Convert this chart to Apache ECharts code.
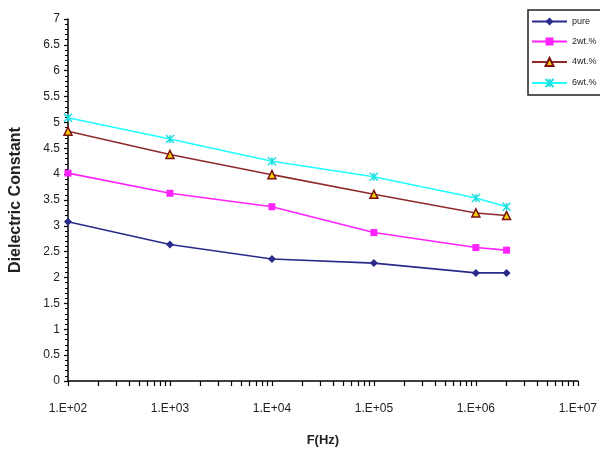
<!DOCTYPE html>
<html>
<head>
<meta charset="utf-8">
<script src="https://cdn.jsdelivr.net/npm/echarts@6/dist/echarts.min.js"></script>
<style>html,body{margin:0;padding:0;background:#fff}#c{width:600px;height:455px}</style>
</head>
<body>
<div id="c"></div>
<script>
var freq = [100, 1000, 10000, 100000, 1000000, 2000000];
var pure = [3.08, 2.64, 2.36, 2.28, 2.09, 2.09];
var wt2 = [4.02, 3.63, 3.37, 2.87, 2.58, 2.53];
var wt4 = [4.83, 4.38, 3.99, 3.61, 3.25, 3.20];
var wt6 = [5.09, 4.68, 4.25, 3.95, 3.54, 3.37];
var seriesNames = ['pure', '2wt.%', '4wt.%', '6wt.%'];
var xMajorTicks = [100, 1000, 10000, 100000, 1000000, 10000000];
var xMinorTicks = [100,200,300,400,500,600,700,800,900,
  1000,2000,3000,4000,5000,6000,7000,8000,9000,
  10000,20000,30000,40000,50000,60000,70000,80000,90000,
  100000,200000,300000,400000,500000,600000,700000,800000,900000,
  1000000,2000000,3000000,4000000,5000000,6000000,7000000,8000000,9000000,10000000];

function pairs(vals){ return freq.map(function(f,i){ return [f, vals[i]]; }); }

var chart = echarts.init(document.getElementById('c'), null, {renderer:'canvas'});
var font = 'Liberation Sans, Arial, sans-serif';
chart.setOption({
  animation: false,
  backgroundColor: '#fff',
  grid: {left: 63, right: 22, top: 19, bottom: 74, containLabel: false},
  legend: {
    orient: 'vertical', left: 528, top: 10,
    padding: [7, 60, 7, 3],
    itemWidth: 35, itemHeight: 10, itemGap: 11,
    borderColor: '#222', borderWidth: 1.5, backgroundColor: '#fff',
    textStyle: {fontSize: 9, color: '#222', fontFamily: font},
    data: seriesNames
  },
  xAxis: {
    type: 'log', logBase: 10, min: 100, max: 10000000,
    splitLine: {show: false},
    axisLine: {lineStyle: {color: '#000', width: 1.5}},
    axisTick: {show: true, length: 5, customValues: xMinorTicks, lineStyle: {color: '#000', width: 1.2}},
    axisLabel: {customValues: xMajorTicks, margin: 22, fontSize: 12, color: '#222', fontFamily: font,
      formatter: function(v){ var e = Math.round(Math.log10(v)); return '1.E+' + (e < 10 ? '0' : '') + e; }},
    name: 'F(Hz)', nameLocation: 'middle', nameGap: 53,
    nameTextStyle: {fontSize: 13, fontWeight: 'bold', color: '#222', fontFamily: font}
  },
  yAxis: {
    type: 'value', min: 0, max: 7, interval: 0.5,
    splitLine: {show: false},
    axisLine: {show: true, lineStyle: {color: '#000', width: 1.5}},
    axisTick: {show: true, length: 4, lineStyle: {color: '#000', width: 1.2}},
    minorTick: {show: true, splitNumber: 5, length: 3, lineStyle: {color: '#000', width: 1}},
    axisLabel: {margin: 8, fontSize: 12, color: '#222', fontFamily: font},
    name: 'Dielectric Constant', nameLocation: 'middle', nameGap: 44,
    nameTextStyle: {fontSize: 16, fontWeight: 'bold', color: '#222', fontFamily: font}
  },
  series: [
    {name: seriesNames[0], type: 'line', data: pairs(pure), symbol: 'diamond', symbolSize: 8,
      lineStyle: {color: '#2a2a8a', width: 1.6}, itemStyle: {color: '#2a2a8a'}},
    {name: seriesNames[1], type: 'line', data: pairs(wt2), symbol: 'rect', symbolSize: 7,
      lineStyle: {color: '#ff22ff', width: 1.6}, itemStyle: {color: '#ff22ff'}},
    {name: seriesNames[2], type: 'line', data: pairs(wt4), symbol: 'triangle', symbolSize: 8,
      lineStyle: {color: '#8e2a2a', width: 1.6}, itemStyle: {color: '#f2d000', borderColor: '#7a1010', borderWidth: 1.5}},
    {name: seriesNames[3], type: 'line', data: pairs(wt6),
      symbol: 'path://M0,0L10,10M10,0L0,10M5,0L5,10', symbolSize: 8,
      lineStyle: {color: '#22ffff', width: 1.6}, itemStyle: {color: '#22eeee', borderColor: '#22dddd', borderWidth: 1.5}}
  ]
});
</script>
</body>
</html>
